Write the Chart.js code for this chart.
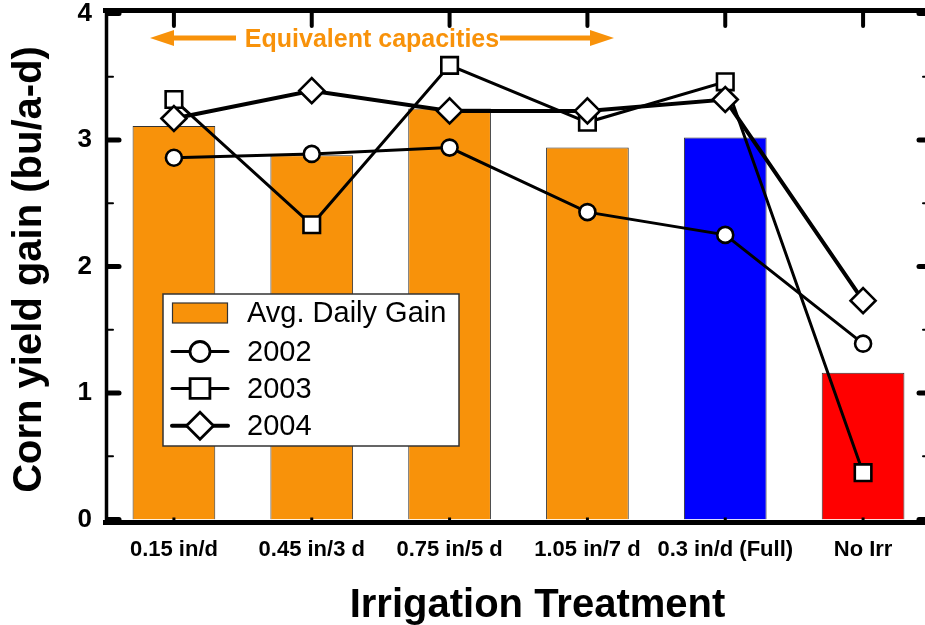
<!DOCTYPE html>
<html>
<head>
<meta charset="utf-8">
<script src="https://cdn.jsdelivr.net/npm/chart.js@4/dist/chart.umd.min.js"></script>
<style>
html,body{margin:0;padding:0;background:#fff;overflow:hidden;}
#wrap{width:940px;height:625px;position:relative;}
canvas{display:block;}
</style>
</head>
<body>
<div id="wrap"><canvas id="c" width="940" height="625" style="width:940px;height:625px"></canvas></div>
<script>
const categories = ['0.15 in/d', '0.45 in/3 d', '0.75 in/5 d', '1.05 in/7 d', '0.3 in/d (Full)', 'No Irr'];
const avgDailyGain = [3.11, 2.88, 3.25, 2.94, 3.02, 1.16];
const gain2002 = [2.86, 2.89, 2.94, 2.43, 2.25, 1.39];
const gain2003 = [3.32, 2.33, 3.59, 3.14, 3.46, 0.37];
const gain2004 = [3.17, 3.39, 3.23, 3.23, 3.32, 1.73];
const yTicks = [0, 1, 2, 3, 4];
const barColors = ['#F8920A', '#F8920A', '#F8920A', '#F8920A', '#0000FF', '#FF0000'];
const seriesLabels = ['Avg. Daily Gain', '2002', '2003', '2004'];
const xTitle = 'Irrigation Treatment';
const yTitle = 'Corn yield gain (bu/a-d)';
const annotationText = 'Equivalent capacities';

const FONT = 'Arial, "Liberation Sans", Helvetica, sans-serif';
const ORANGE = '#F8920A';

function drawMarker(ctx, style, x, y, r, lw) {
  ctx.save();
  ctx.beginPath();
  if (style === 'circle') {
    ctx.arc(x, y, r, 0, Math.PI * 2);
  } else if (style === 'rect') {
    const s = r * Math.SQRT1_2;
    ctx.rect(x - s, y - s, 2 * s, 2 * s);
  } else {
    ctx.moveTo(x, y - r); ctx.lineTo(x + r, y); ctx.lineTo(x, y + r); ctx.lineTo(x - r, y); ctx.closePath();
  }
  ctx.fillStyle = '#fff';
  ctx.fill();
  ctx.lineWidth = lw;
  ctx.strokeStyle = '#000';
  ctx.stroke();
  ctx.restore();
}

function zeroPad(s) { s.paddingLeft = 0; s.paddingRight = 0; s.paddingTop = 0; s.paddingBottom = 0; }

const decor = {
  id: 'decor',
  afterDatasetsDraw(chart) {
    const ctx = chart.ctx;
    const a = chart.chartArea;
    const xs = chart.scales.x, ys = chart.scales.y;
    ctx.save();
    ctx.strokeStyle = '#000';
    ctx.lineCap = 'butt';
    ctx.lineWidth = 5;
    ctx.beginPath(); ctx.moveTo(a.left - 2, 10.5); ctx.lineTo(a.right + 3, 10.5); ctx.stroke();
    ctx.beginPath(); ctx.moveTo(a.left - 2, a.bottom + 3); ctx.lineTo(a.right + 3, a.bottom + 3); ctx.stroke();
    ctx.lineWidth = 3.5;
    ctx.beginPath(); ctx.moveTo(a.left + 1.5, 8); ctx.lineTo(a.left + 1.5, a.bottom + 5.5); ctx.stroke();
    ctx.beginPath(); ctx.moveTo(a.right, 8); ctx.lineTo(a.right, a.bottom + 5.5); ctx.stroke();
    ctx.lineCap = 'round';
    for (let v = 0; v <= 4.001; v += 0.5) {
      const py = ys.getPixelForValue(v);
      const major = Math.abs(v - Math.round(v)) < 1e-6;
      ctx.lineWidth = major ? 5 : 2;
      const L = major ? 11 : 5;
      ctx.beginPath(); ctx.moveTo(a.left + 3, py); ctx.lineTo(a.left + 3 + L, py); ctx.stroke();
      ctx.beginPath(); ctx.moveTo(a.right - (major ? 13 : 9), py); ctx.lineTo(a.right, py); ctx.stroke();
    }
    for (let i = 0; i < categories.length; i++) {
      const px = xs.getPixelForValue(i);
      ctx.lineWidth = 4;
      ctx.beginPath(); ctx.moveTo(px, 13); ctx.lineTo(px, 26); ctx.stroke();
      ctx.lineWidth = 3;
      ctx.lineCap = 'butt';
      ctx.beginPath(); ctx.moveTo(px, a.bottom - 2); ctx.lineTo(px, a.bottom + 1); ctx.stroke();
      ctx.lineCap = 'round';
    }
    // legend
    const lx = 163, ly = 294, lw = 296, lh = 152;
    ctx.fillStyle = '#fff';
    ctx.fillRect(lx, ly, lw, lh);
    ctx.lineWidth = 1.5;
    ctx.strokeStyle = '#333';
    ctx.strokeRect(lx, ly, lw, lh);
    const rows = [313, 351.5, 388.5, 425.7];
    const ds = chart.data.datasets;
    ctx.font = '29px ' + FONT;
    ctx.textBaseline = 'middle';
    ctx.textAlign = 'left';
    ctx.fillStyle = ORANGE;
    ctx.fillRect(172.5, rows[0] - 10, 55, 20);
    ctx.lineWidth = 1.2; ctx.strokeStyle = '#333';
    ctx.strokeRect(172.5, rows[0] - 10, 55, 20);
    ctx.fillStyle = '#000';
    ctx.fillText(ds[0].label, 247, rows[0] + 1);
    const legendMarkers = [['circle', 10], ['rect', 14], ['rectRot', 13.5]];
    for (let k = 1; k <= 3; k++) {
      const y = rows[k];
      ctx.strokeStyle = '#000';
      ctx.lineWidth = ds[k].borderWidth;
      ctx.lineCap = 'round';
      ctx.beginPath(); ctx.moveTo(172, y); ctx.lineTo(228, y); ctx.stroke();
      drawMarker(ctx, legendMarkers[k - 1][0], 200, y, legendMarkers[k - 1][1], 2.8);
      ctx.fillStyle = '#000';
      ctx.fillText(ds[k].label, 247, y + 1);
    }
    ctx.restore();
  },
  afterDraw(chart) {
    const ctx = chart.ctx;
    ctx.save();
    ctx.fillStyle = ORANGE;
    ctx.strokeStyle = ORANGE;
    ctx.font = 'bold 25px ' + FONT;
    ctx.textAlign = 'center';
    ctx.textBaseline = 'alphabetic';
    ctx.fillText(annotationText, 372, 47);
    const ay = 38;
    ctx.lineWidth = 5;
    ctx.lineCap = 'butt';
    ctx.beginPath(); ctx.moveTo(170, ay); ctx.lineTo(236, ay); ctx.stroke();
    ctx.beginPath(); ctx.moveTo(500, ay); ctx.lineTo(594, ay); ctx.stroke();
    ctx.beginPath(); ctx.moveTo(150, ay); ctx.lineTo(174, ay - 8); ctx.lineTo(174, ay + 8); ctx.closePath(); ctx.fill();
    ctx.beginPath(); ctx.moveTo(614, ay); ctx.lineTo(590, ay - 8); ctx.lineTo(590, ay + 8); ctx.closePath(); ctx.fill();
    ctx.fillStyle = '#000';
    ctx.font = 'bold 40px ' + FONT;
    ctx.textAlign = 'center';
    ctx.textBaseline = 'alphabetic';
    ctx.fillText(xTitle, 537.5, 616.5);
    ctx.translate(41, 269.5);
    ctx.rotate(-Math.PI / 2);
    ctx.fillText(yTitle, 0, 0);
    ctx.restore();
  }
};

const datasets = [
  { type: 'bar', label: seriesLabels[0], data: avgDailyGain, backgroundColor: barColors,
    borderColor: '#333', borderWidth: 1, barPercentage: 0.6, categoryPercentage: 1, order: 10 },
  { type: 'line', label: seriesLabels[1], data: gain2002, borderColor: '#000', borderWidth: 3,
    pointStyle: 'circle', pointRadius: 8, pointBorderWidth: 2.6, pointBackgroundColor: '#fff', pointBorderColor: '#000', order: 3 },
  { type: 'line', label: seriesLabels[2], data: gain2003, borderColor: '#000', borderWidth: 3,
    pointStyle: 'rect', pointRadius: 11.7, pointBorderWidth: 2.6, pointBackgroundColor: '#fff', pointBorderColor: '#000', order: 2 },
  { type: 'line', label: seriesLabels[3], data: gain2004, borderColor: '#000', borderWidth: 4,
    pointStyle: 'rectRot', pointRadius: 12.5, pointBorderWidth: 2.6, pointBackgroundColor: '#fff', pointBorderColor: '#000', order: 1 }
];

new Chart(document.getElementById('c'), {
  data: { labels: categories, datasets: datasets },
  options: {
    responsive: false,
    maintainAspectRatio: false,
    animation: false,
    devicePixelRatio: 1,
    layout: { autoPadding: false, padding: { left: 0, right: 8, top: 13.5, bottom: 0 } },
    plugins: { legend: { display: false }, tooltip: { enabled: false } },
    scales: {
      x: {
        type: 'category',
        offset: true,
        grid: { display: false, drawTicks: false },
        border: { display: false },
        ticks: { color: '#000', font: { family: FONT, size: 22, weight: 'bold' }, padding: 17, maxRotation: 0, autoSkip: false },
        afterFit(scale) { scale.height = 105.5; zeroPad(scale); }
      },
      y: {
        min: 0, max: 4,
        grid: { display: false, drawTicks: false },
        border: { display: false },
        afterBuildTicks(scale) { scale.ticks = yTicks.map(v => ({ value: v })); },
        ticks: { color: '#000', font: { family: FONT, size: 26, weight: 'bold' }, padding: 13 },
        afterFit(scale) { scale.width = 105; zeroPad(scale); }
      }
    }
  },
  plugins: [decor]
});
</script>
</body>
</html>
